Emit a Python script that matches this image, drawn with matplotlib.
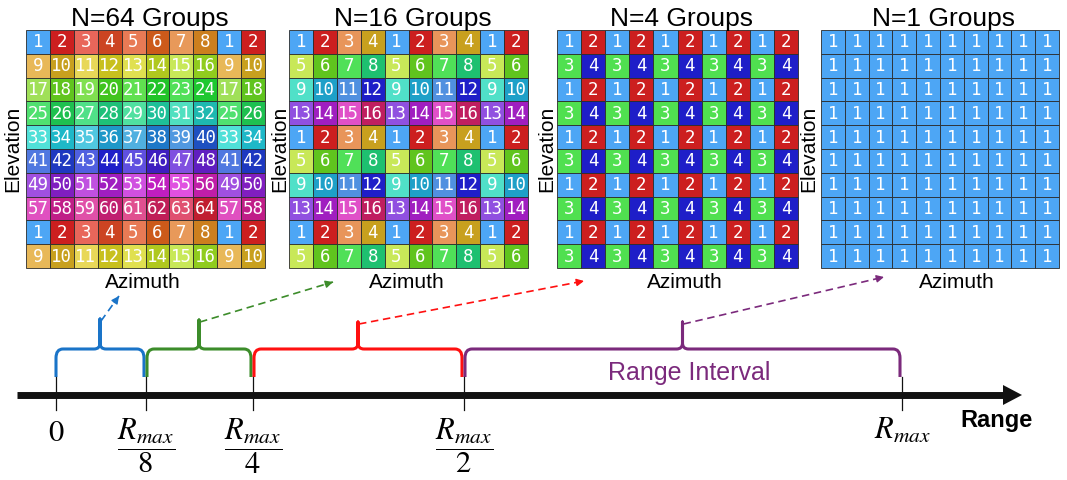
import numpy as np
import matplotlib.pyplot as plt
from matplotlib.patches import Rectangle, Polygon, PathPatch
from matplotlib.path import Path

plt.rcParams['font.family'] = ['Liberation Sans', 'DejaVu Sans']
plt.rcParams['mathtext.fontset'] = 'stix'

# group counts and their titles
group_counts = [64, 16, 4, 1]
titles = ['N=64 Groups', 'N=16 Groups', 'N=4 Groups', 'N=1 Groups']

# colour of each group id
colors_64 = ['#4da6f5', '#cc1f1f', '#e8665a', '#cc4422', '#e87a55', '#cc5a1a', '#e8995a', '#cc7f1e',
             '#e8b858', '#c8a01e', '#e8d858', '#c8c01e', '#e0e050', '#b0c81e', '#c8e858', '#90cc1e',
             '#a0e058', '#60c41e', '#80e050', '#40c41e', '#60e050', '#20c428', '#50e058', '#1ec830',
             '#50e070', '#1ec050', '#50e088', '#1ec078', '#50e0a0', '#1ec098', '#50e0c0', '#1eb8b0',
             '#50e0d8', '#1eb8c8', '#50c8e0', '#1e98c8', '#50b0e0', '#1e78c8', '#5098e0', '#1e50c0',
             '#5078e0', '#1e38c0', '#5060e0', '#1e1ec8', '#6050e0', '#3e1ec0', '#8050e0', '#601ec0',
             '#a050e0', '#801ec0', '#c050e0', '#a01ec0', '#d050e0', '#c01ec0', '#e050e0', '#c01ea8',
             '#e050c0', '#c01e88', '#e050a8', '#c01e70', '#e05090', '#c01e58', '#e05070', '#c01e30']
colors_16 = ['#4da6f5', '#cc1f1f', '#e8955a', '#c8a01e',
             '#c8e858', '#60c41e', '#50e058', '#1ec070',
             '#50e0c8', '#1ea0c8', '#5090e0', '#1e1ec8',
             '#9050e0', '#a01ec0', '#e050c8', '#c01e60']
colors_4 = ['#4da6f5', '#cc1f1f', '#50e050', '#1e1ec8']
colors_1 = ['#4da6f5']
group_colors = [colors_64, colors_16, colors_4, colors_1]

# range axis
tick_labels = [r'$0$', r'$\dfrac{R_{max}}{8}$', r'$\dfrac{R_{max}}{4}$',
               r'$\dfrac{R_{max}}{2}$', r'$R_{max}$']
interval_colors = ['#1a74c8', '#3c8c2a', '#ff1010', '#7b2a7c']

# layout (pixels)
grid_x = [(26, 265), (289, 528), (557, 798), (821, 1059)]
grid_y = (30, 268)
elev_x = [12.5, 280, 547, 809]
azim_x = [143, 407, 685, 957]
tick_px = [56, 146, 253, 464, 902]
arrow_end = [(119, 296), (333, 282), (584, 281), (884, 277)]
brace_tip = [319, 320, 322, 322]
n_cells = 10

fig = plt.figure(figsize=(10.67, 4.8), dpi=100)
ax = fig.add_axes([0, 0, 1, 1])
ax.set_xlim(0, 1067)
ax.set_ylim(480, 0)
ax.axis('off')

for k, n in enumerate(group_counts):
    side = int(round(np.sqrt(n)))
    tile = np.arange(1, n + 1).reshape(side, side)
    reps = int(np.ceil(n_cells / side))
    ids = np.tile(tile, (reps, reps))[:n_cells, :n_cells]
    x0, x1 = grid_x[k]
    y0, y1 = grid_y
    cw = (x1 - x0) / n_cells
    ch = (y1 - y0) / n_cells
    for r in range(n_cells):
        for c in range(n_cells):
            g = ids[r, c]
            ax.add_patch(Rectangle((x0 + c * cw, y0 + r * ch), cw, ch,
                                   facecolor=group_colors[k][g - 1],
                                   edgecolor='#2b2b2b', lw=0.6))
            ax.text(x0 + (c + 0.5) * cw, y0 + (r + 0.5) * ch + 0.5, str(g),
                    color='white', fontsize=12.5, family='DejaVu Sans Mono',
                    ha='center', va='center')
    ax.text((x0 + x1) / 2 + 4, 26, titles[k], fontsize=19, ha='center', va='baseline')
    ax.text(elev_x[k], (y0 + y1) / 2, 'Elevation', fontsize=15, rotation=90,
            ha='center', va='center')
    ax.text(azim_x[k], 288, 'Azimuth', fontsize=15, ha='center', va='baseline')

# range axis with arrow head
ax.plot([17, 1005], [395, 395], color='#111111', lw=5, solid_capstyle='butt')
ax.add_patch(Polygon([(1003, 385), (1022, 395), (1003, 405)], closed=True,
                     facecolor='#111111', edgecolor='none'))
for xp in tick_px:
    ax.plot([xp, xp], [377, 410], color='#111111', lw=0.9)

ax.text(tick_px[0], 433, tick_labels[0], fontsize=22, ha='center', va='center')
for xp, lab in zip(tick_px[1:4], tick_labels[1:4]):
    ax.text(xp, 446, lab, fontsize=22, ha='center', va='center')
ax.text(tick_px[4], 431, tick_labels[4], fontsize=22, ha='center', va='center')
ax.text(997, 427, 'Range', fontsize=17, fontweight='bold', ha='center', va='baseline')


def brace(xa, xb, y_bot, y_h, y_tip, color):
    xm = (xa + xb) / 2
    r, rv, rc = 7, 9, 6
    verts = [(xa, y_bot), (xa, y_h + rv), (xa, y_h), (xa + r, y_h),
             (xm - rc, y_h), (xm, y_h), (xm, y_h - rc), (xm, y_tip),
             (xm, y_h - rc), (xm, y_h), (xm + rc, y_h),
             (xb - r, y_h), (xb, y_h), (xb, y_h + rv), (xb, y_bot)]
    codes = [Path.MOVETO, Path.LINETO, Path.CURVE3, Path.CURVE3,
             Path.LINETO, Path.CURVE3, Path.CURVE3, Path.LINETO,
             Path.LINETO, Path.CURVE3, Path.CURVE3,
             Path.LINETO, Path.CURVE3, Path.CURVE3, Path.LINETO]
    ax.add_patch(PathPatch(Path(verts, codes), facecolor='none', edgecolor=color,
                           lw=2.2, capstyle='butt', joinstyle='round'))
    return xm


for i in range(4):
    xa = tick_px[i] + (0 if i == 0 else 1)
    xb = tick_px[i + 1] - 2
    xm = brace(xa, xb, 377, 349, brace_tip[i], interval_colors[i])
    ex, ey = arrow_end[i]
    sx, sy = xm + 1, brace_tip[i] + 2
    ax.plot([sx, ex], [sy, ey], color=interval_colors[i], lw=1.2, dashes=(4.5, 2.8))
    dx, dy = ex - sx, ey - sy
    d = np.hypot(dx, dy)
    ax.annotate('', xy=(ex, ey), xytext=(ex - dx / d * 8, ey - dy / d * 8),
                arrowprops=dict(arrowstyle='-|>', color=interval_colors[i], lw=1.0,
                                mutation_scale=11, shrinkA=0, shrinkB=0))

ax.text(689, 380, 'Range Interval', fontsize=18, color=interval_colors[3],
        ha='center', va='baseline')

fig.savefig('out.png', dpi=100)
